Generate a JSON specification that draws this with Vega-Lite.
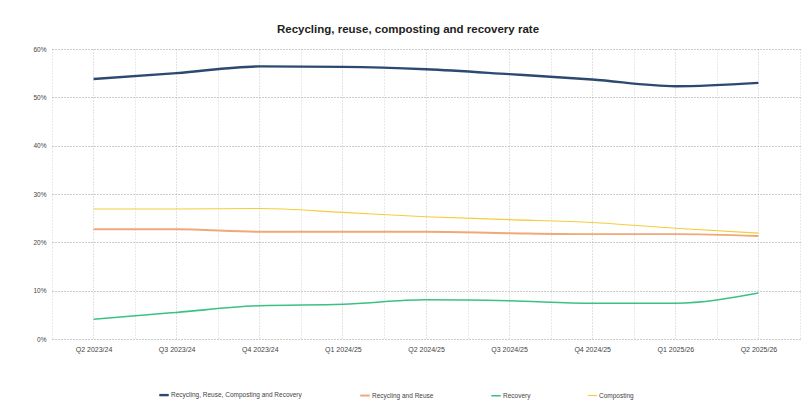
{
  "$schema": "https://vega.github.io/schema/vega-lite/v6.json",
  "width": 748,
  "height": 290,
  "autosize": {"type": "none"},
  "padding": {"left": 52, "top": 49, "right": 3, "bottom": 75},
  "background": "white",
  "title": {
    "text": "Recycling, reuse, composting and recovery rate",
    "font": "Liberation Sans",
    "fontSize": 11.5,
    "fontWeight": "bold",
    "color": "#222222",
    "anchor": "middle",
    "dx": -18,
    "offset": 11
  },
  "config": {
    "view": {"stroke": null},
    "font": "Liberation Sans"
  },
  "data": {
    "values": [
      {"quarter": "Q2 2023/24", "series": "Recycling, Reuse, Composting and Recovery", "rate": 0.538},
      {"quarter": "Q3 2023/24", "series": "Recycling, Reuse, Composting and Recovery", "rate": 0.550},
      {"quarter": "Q4 2023/24", "series": "Recycling, Reuse, Composting and Recovery", "rate": 0.564},
      {"quarter": "Q1 2024/25", "series": "Recycling, Reuse, Composting and Recovery", "rate": 0.563},
      {"quarter": "Q2 2024/25", "series": "Recycling, Reuse, Composting and Recovery", "rate": 0.558},
      {"quarter": "Q3 2024/25", "series": "Recycling, Reuse, Composting and Recovery", "rate": 0.548},
      {"quarter": "Q4 2024/25", "series": "Recycling, Reuse, Composting and Recovery", "rate": 0.537},
      {"quarter": "Q1 2025/26", "series": "Recycling, Reuse, Composting and Recovery", "rate": 0.523},
      {"quarter": "Q2 2025/26", "series": "Recycling, Reuse, Composting and Recovery", "rate": 0.530},

      {"quarter": "Q2 2023/24", "series": "Recycling and Reuse", "rate": 0.227},
      {"quarter": "Q3 2023/24", "series": "Recycling and Reuse", "rate": 0.227},
      {"quarter": "Q4 2023/24", "series": "Recycling and Reuse", "rate": 0.222},
      {"quarter": "Q1 2024/25", "series": "Recycling and Reuse", "rate": 0.222},
      {"quarter": "Q2 2024/25", "series": "Recycling and Reuse", "rate": 0.222},
      {"quarter": "Q3 2024/25", "series": "Recycling and Reuse", "rate": 0.219},
      {"quarter": "Q4 2024/25", "series": "Recycling and Reuse", "rate": 0.217},
      {"quarter": "Q1 2025/26", "series": "Recycling and Reuse", "rate": 0.217},
      {"quarter": "Q2 2025/26", "series": "Recycling and Reuse", "rate": 0.213},

      {"quarter": "Q2 2023/24", "series": "Recovery", "rate": 0.041},
      {"quarter": "Q3 2023/24", "series": "Recovery", "rate": 0.055},
      {"quarter": "Q4 2023/24", "series": "Recovery", "rate": 0.069},
      {"quarter": "Q1 2024/25", "series": "Recovery", "rate": 0.072},
      {"quarter": "Q2 2024/25", "series": "Recovery", "rate": 0.081},
      {"quarter": "Q3 2024/25", "series": "Recovery", "rate": 0.079},
      {"quarter": "Q4 2024/25", "series": "Recovery", "rate": 0.074},
      {"quarter": "Q1 2025/26", "series": "Recovery", "rate": 0.074},
      {"quarter": "Q2 2025/26", "series": "Recovery", "rate": 0.095},

      {"quarter": "Q2 2023/24", "series": "Composting", "rate": 0.269},
      {"quarter": "Q3 2023/24", "series": "Composting", "rate": 0.269},
      {"quarter": "Q4 2023/24", "series": "Composting", "rate": 0.270},
      {"quarter": "Q1 2024/25", "series": "Composting", "rate": 0.262},
      {"quarter": "Q2 2024/25", "series": "Composting", "rate": 0.253},
      {"quarter": "Q3 2024/25", "series": "Composting", "rate": 0.247},
      {"quarter": "Q4 2024/25", "series": "Composting", "rate": 0.241},
      {"quarter": "Q1 2025/26", "series": "Composting", "rate": 0.229},
      {"quarter": "Q2 2025/26", "series": "Composting", "rate": 0.219}
    ]
  },
  "resolve": {"axis": {"x": "independent"}},
  "layer": [
    {
      "description": "gridlines through each quarter",
      "mark": {"type": "line", "opacity": 0},
      "encoding": {
        "x": {
          "field": "quarter",
          "type": "ordinal",
          "sort": null,
          "bandPosition": 0.5,
          "scale": {"type": "band", "paddingInner": 0, "paddingOuter": 0},
          "axis": {
            "orient": "bottom",
            "title": null,
            "labels": false,
            "ticks": false,
            "domain": false,
            "grid": true,
            "gridColor": "#c4c4c4",
            "gridDash": [1, 2],
            "gridWidth": 1
          }
        },
        "y": {"field": "rate", "type": "quantitative"},
        "detail": {"field": "series"}
      }
    },
    {
      "mark": {"type": "line", "interpolate": "monotone"},
      "encoding": {
        "x": {
          "field": "quarter",
          "type": "ordinal",
          "sort": null,
          "bandPosition": 0.5,
          "axis": {
            "orient": "bottom",
            "title": null,
            "labelAngle": 0,
            "labelFontSize": 7,
            "labelColor": "#444444",
            "labelPadding": 6,
            "ticks": false,
            "domain": false,
            "grid": true,
            "tickBand": "extent",
            "gridColor": "#d4d4d4",
            "gridDash": [1, 2],
            "gridWidth": 1
          }
        },
        "y": {
          "field": "rate",
          "type": "quantitative",
          "scale": {"domain": [0, 0.6], "nice": false},
          "axis": {
            "title": null,
            "values": [0, 0.1, 0.2, 0.3, 0.4, 0.5, 0.6],
            "format": ".0%",
            "labelFontSize": 6.5,
            "labelColor": "#444444",
            "labelPadding": 6,
            "ticks": false,
            "domain": false,
            "gridColor": "#999999",
            "gridDash": [1, 2],
            "gridWidth": 1
          }
        },
        "color": {
          "field": "series",
          "type": "nominal",
          "scale": {
            "domain": ["Recycling, Reuse, Composting and Recovery", "Recycling and Reuse", "Recovery", "Composting"],
            "range": ["#2c4a70", "#f0a878", "#3cc084", "#f5cc3a"]
          },
          "legend": {
            "title": null,
            "orient": "none",
            "legendX": 106,
            "legendY": 340,
            "direction": "horizontal",
            "symbolType": "stroke",
            "symbolSize": 90,
            "symbolStrokeWidth": 1.5,
            "labelFontSize": 6.5,
            "labelColor": "#444444",
            "labelLimit": 300,
            "columnPadding": 54,
            "labelOffset": 1
          }
        },
        "strokeWidth": {
          "field": "series",
          "type": "nominal",
          "scale": {
            "domain": ["Recycling, Reuse, Composting and Recovery", "Recycling and Reuse", "Recovery", "Composting"],
            "range": [2.4, 1.1, 1.1, 1.1]
          },
          "legend": null
        }
      }
    }
  ]
}
